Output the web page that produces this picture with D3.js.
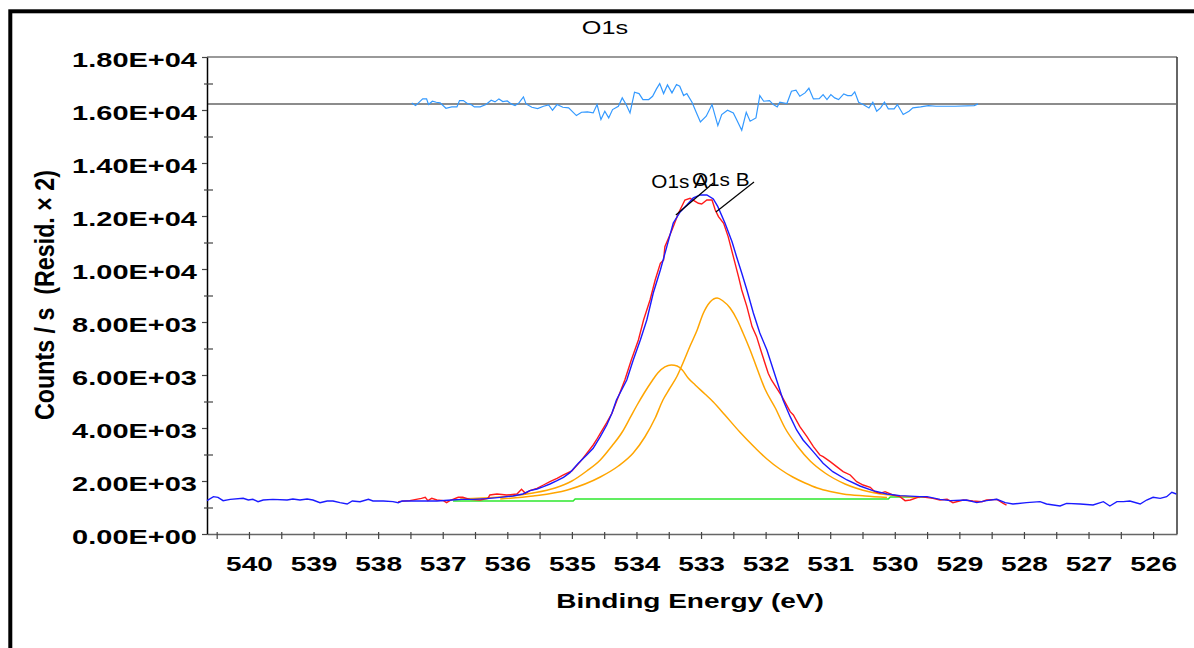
<!DOCTYPE html>
<html>
<head>
<meta charset="utf-8">
<script src="https://cdn.jsdelivr.net/npm/d3@7"></script>
<style>
  body { margin: 0; background: #fff; }
  svg { display: block; }
  text { font-family: "Liberation Sans", Arial, sans-serif; }
</style>
</head>
<body>
<script>
// O1s XPS spectrum: [binding energy (eV), counts/s]

const envelope = [
  [540.65,1258],[540.55,1409],[540.48,1384],[540.40,1258],[540.29,1308],[540.09,1346],[540.01,1283],
  [539.94,1308],[539.86,1220],[539.78,1283],[539.63,1308],[539.41,1283],[539.32,1321],[539.21,1283],
  [539.10,1321],[539.01,1283],[538.90,1183],[538.79,1245],[538.70,1245],[538.59,1183],[538.48,1132],
  [538.40,1245],[538.28,1220],[538.15,1308],[538.08,1245],[537.92,1245],[537.77,1220],[537.69,1183],
  [537.63,1245],[537.51,1245],[537.30,1245],[537.09,1245],[536.86,1283],[536.71,1308],[536.53,1308],
  [536.32,1333],[536.11,1384],[535.91,1434],[535.76,1510],[535.65,1635],[535.54,1698],[535.44,1786],
  [535.34,1887],[535.23,2013],[535.13,2139],[535.03,2315],[534.90,2667],[534.77,2981],[534.67,3233],
  [534.56,3673],[534.46,4114],[534.38,4554],[534.31,5057],[534.15,5812],[534.05,6567],[533.94,7322],
  [533.84,8076],[533.74,9095],[533.63,9963],[533.53,10843],[533.43,11737],[533.32,12163],[533.22,12416],
  [533.12,12681],[533.01,12794],[532.91,12794],[532.81,12643],[532.74,12353],[532.63,11737],[532.52,11031],
  [532.45,10465],[532.37,9850],[532.29,9209],[532.19,8341],[532.09,7586],[531.98,6944],[531.88,6189],
  [531.83,5812],[531.73,5057],[531.62,4428],[531.52,3925],[531.42,3548],[531.26,3100],[531.11,2667],
  [530.96,2352],[530.74,2038],[530.54,1812],[530.34,1635],[530.12,1510],[529.92,1447],[529.61,1409],
  [529.50,1409],[529.30,1308],[529.14,1258],[528.89,1283],[528.73,1183],[528.58,1258],[528.42,1308],
  [528.29,1183],[528.17,1132],[527.96,1183],[527.75,1220],[527.65,1132],[527.44,1057],[527.34,1157],
  [527.13,1132],[526.93,1094],[526.77,1220],[526.67,1057],[526.56,1220],[526.46,1220],[526.36,1245],
  [526.20,1132],[526.10,1283],[526.00,1384],[525.89,1346],[525.79,1409],[525.71,1573],[525.64,1510]
];

const measured = [
  [537.69,1220],[537.51,1258],[537.33,1346],[537.27,1384],[537.23,1258],[537.17,1346],[537.09,1283],
  [536.99,1258],[536.94,1183],[536.89,1258],[536.76,1384],[536.69,1384],[536.58,1308],[536.42,1283],
  [536.30,1346],[536.27,1472],[536.16,1510],[536.01,1472],[535.85,1510],[535.78,1686],[535.72,1535],
  [535.65,1635],[535.54,1724],[535.44,1849],[535.34,1975],[535.23,2101],[535.13,2227],[535.00,2378],
  [534.87,2730],[534.77,3044],[534.67,3359],[534.62,3548],[534.56,3799],[534.46,4202],[534.38,4554],
  [534.33,4868],[534.18,5812],[534.08,6567],[533.97,7322],[533.89,8076],[533.79,8831],[533.71,9586],
  [533.63,10215],[533.58,10340],[533.56,10844],[533.45,11473],[533.35,12102],[533.25,12605],[533.17,12668],
  [533.04,12479],[532.99,12454],[532.91,12605],[532.83,12605],[532.78,12228],[532.73,11976],[532.65,11725],
  [532.58,11221],[532.50,10467],[532.42,9712],[532.37,9209],[532.29,8580],[532.21,7825],[532.14,7447],
  [532.06,6818],[531.96,6064],[531.91,5812],[531.75,5200],[531.62,4617],[531.57,4491],[531.47,4051],
  [531.36,3673],[531.26,3296],[531.16,2981],[531.11,2918],[531.00,2730],[530.90,2541],[530.80,2352],
  [530.69,2227],[530.59,1975],[530.49,1849],[530.38,1761],[530.31,1598],[530.23,1535],[530.15,1598],
  [530.03,1472],[529.92,1409],[529.84,1258],[529.76,1283],[529.61,1409],[529.41,1346],[529.30,1283],
  [529.19,1308],[529.10,1183],[528.94,1283],[528.79,1245],[528.65,1220],[528.58,1283],[528.42,1308],
  [528.32,1157],[528.27,1094]
];

const compA = [
  [536.73,1321],[536.11,1396],[535.60,1547],[535.26,1736],[535.00,2000],[534.77,2378],[534.56,2793],
  [534.38,3321],[534.22,3849],[534.10,4378],[533.99,4868],[533.88,5321],[533.77,5736],[533.67,6076],
  [533.56,6303],[533.46,6378],[533.37,6340],[533.29,6189],[533.20,5887],[533.09,5623],[532.94,5284],
  [532.81,4982],[532.63,4491],[532.40,3849],[532.16,3246],[531.98,2831],[531.78,2453],[531.58,2151],
  [531.39,1925],[531.20,1736],[531.00,1604],[530.80,1510],[530.46,1434],[530.12,1378]
];

const compB = [
  [536.11,1321],[535.60,1434],[535.07,1661],[534.56,2151],[534.28,2566],[534.05,3057],[533.87,3661],
  [533.71,4378],[533.59,5057],[533.48,5510],[533.37,5963],[533.28,6454],[533.17,7095],[533.06,7699],
  [532.97,8303],[532.86,8756],[532.75,8907],[532.66,8793],[532.55,8529],[532.44,8076],[532.35,7586],
  [532.24,6944],[532.13,6227],[532.01,5472],[531.85,4755],[531.70,4000],[531.51,3321],[531.31,2755],
  [531.08,2302],[530.77,1887],[530.38,1585],[529.92,1434],[529.61,1378]
];

const background = [
  [536.84,1245],[534.98,1245],[534.95,1321],[530.10,1321],[530.07,1396],[529.50,1396]
];

// residual, drawn as offset from its zero line
const residZero = 16230;
const residual = [
  [537.48,38],[537.42,-63],[537.31,189],[537.25,189],[537.22,-25],[537.16,101],[537.10,63],[537.04,38],
  [536.95,-164],[536.86,-113],[536.78,-113],[536.74,126],[536.68,126],[536.62,13],[536.56,-25],[536.51,-113],
  [536.42,-113],[536.33,-25],[536.25,138],[536.19,75],[536.13,189],[536.07,88],[536.00,113],[535.94,0],
  [535.88,-63],[535.82,38],[535.75,264],[535.71,0],[535.62,-126],[535.53,-176],[535.44,-88],[535.36,-38],
  [535.30,-239],[535.23,-25],[535.14,-126],[535.05,-151],[534.93,-440],[534.85,-315],[534.76,-302],[534.67,-340],
  [534.61,-25],[534.55,-591],[534.49,-277],[534.43,-528],[534.37,-214],[534.28,-88],[534.22,226],[534.16,-25],
  [534.10,-340],[534.03,440],[533.96,390],[533.90,164],[533.81,164],[533.75,289],[533.69,566],[533.64,767],
  [533.58,390],[533.52,717],[533.45,415],[533.38,730],[533.33,667],[533.27,314],[533.22,390],[533.14,63],
  [533.07,-340],[533.01,-679],[532.92,-465],[532.83,-25],[532.74,-818],[532.68,-402],[532.59,-239],[532.50,-340],
  [532.45,-591],[532.37,-994],[532.30,-315],[532.24,-654],[532.15,-528],[532.09,314],[532.03,101],[531.94,126],
  [531.88,-25],[531.82,-113],[531.78,63],[531.67,13],[531.60,478],[531.53,516],[531.47,289],[531.39,415],
  [531.33,591],[531.26,189],[531.17,201],[531.11,352],[531.05,164],[530.99,352],[530.93,226],[530.87,164],
  [530.79,377],[530.73,314],[530.67,314],[530.62,453],[530.56,63],[530.49,-25],[530.40,-151],[530.34,63],
  [530.28,-277],[530.22,-151],[530.16,63],[530.10,-189],[530.01,-189],[529.96,-25],[529.87,-402],[529.78,-277],
  [529.72,-151],[529.60,-113],[529.48,-63],[529.36,-88],[529.07,-88],[528.77,-63],[528.71,0]
];

const yMajor = d3.range(0, 18001, 2000);
const yMinor = d3.range(1000, 18000, 2000);
const xTicks = d3.range(526, 541, 0.5);

// peak labels: text anchor point and leader line ends
const peakLabels = [
  { name: "O1s A", tx: 533.77, ty: 13058, from: [533.39, 12039], to: [532.81, 13247] },
  { name: "O1s B", tx: 533.14, ty: 13134, from: [532.77, 12152], to: [532.18, 13284] }
];

const w = 1194;
const h = 648;
const stretchK = 1.4;   // the picture's lettering is wide

const svg = d3.select("body")
  .append("svg")
  .attr("width", w)
  .attr("height", h);

// page frame (runs off the right and bottom)
svg.append("rect")
  .attr("x", 10.3).attr("y", 11.3)
  .attr("width", 1300).attr("height", 800)
  .attr("fill", "none").attr("stroke", "#000").attr("stroke-width", 4);

const x = d3.scaleLinear().domain([540.65, 525.63]).range([207, 1177]);
const y = d3.scaleLinear().domain([0, 18000]).range([534, 57]);

function stretch(sel, k) {
  sel.each(function () {
    const len = this.getComputedTextLength();
    d3.select(this).attr("textLength", len * k).attr("lengthAdjust", "spacingAndGlyphs");
  });
}

function fmtE(d) {
  const [m, e] = d.toExponential(2).split("e");
  const n = +e;
  return m + "E" + (n < 0 ? "-" : "+") + String(Math.abs(n)).padStart(2, "0");
}

// plot frame top / right
svg.append("line")
  .attr("x1", x.range()[0]).attr("x2", x.range()[1])
  .attr("y1", y(18000)).attr("y2", y(18000))
  .attr("stroke", "#777").attr("stroke-width", 1.5);
svg.append("line")
  .attr("x1", x.range()[1]).attr("x2", x.range()[1])
  .attr("y1", y(18000)).attr("y2", y(0))
  .attr("stroke", "#333").attr("stroke-width", 1.5);

// residual zero line
svg.append("line")
  .attr("x1", x.range()[0]).attr("x2", x.range()[1])
  .attr("y1", y(residZero)).attr("y2", y(residZero))
  .attr("stroke", "#666").attr("stroke-width", 1.5);

// x axis
const xAxis = svg.append("g")
  .attr("transform", `translate(0,${y(0)})`)
  .call(d3.axisBottom(x)
    .tickValues(xTicks)
    .tickSize(5)
    .tickSizeOuter(0)
    .tickFormat(d => Number.isInteger(d) ? d : ""));
xAxis.select(".domain").attr("stroke", "#666").attr("stroke-width", 1.5);
xAxis.selectAll(".tick line").attr("y1", -2).attr("stroke", "#444").attr("stroke-width", 1.2);
xAxis.selectAll(".tick text")
  .attr("y", 37).attr("dy", null)
  .attr("font-size", "20px").attr("font-weight", "bold")
  .attr("font-family", "Liberation Sans, Arial, sans-serif")
  .attr("fill", "#000")
  .call(stretch, stretchK);

// y axis
const yAxis = svg.append("g")
  .attr("transform", `translate(${x.range()[0]},0)`)
  .call(d3.axisLeft(y)
    .tickValues(yMajor)
    .tickSize(5)
    .tickSizeOuter(0)
    .tickFormat(fmtE));
yAxis.select(".domain").attr("stroke", "#000").attr("stroke-width", 1.5);
yAxis.selectAll(".tick line").attr("stroke", "#444").attr("stroke-width", 1.2);
yAxis.selectAll(".tick text")
  .attr("x", -10).attr("dy", 9)
  .attr("font-size", "21px").attr("font-weight", "bold")
  .attr("font-family", "Liberation Sans, Arial, sans-serif")
  .attr("fill", "#000")
  .call(stretch, 1.38);

svg.append("g")
  .attr("transform", `translate(${x.range()[0]},0)`)
  .call(d3.axisLeft(y).tickValues(yMinor).tickSize(3).tickFormat(""))
  .call(g => g.select(".domain").remove())
  .call(g => g.selectAll("line").attr("x2", 6).attr("x1", -3).attr("stroke", "#444").attr("stroke-width", 1.2));

// axis titles
svg.append("text")
  .attr("x", 690).attr("y", 608)
  .attr("text-anchor", "middle")
  .attr("font-size", "20px").attr("font-weight", "bold")
  .text("Binding Energy (eV)")
  .call(stretch, stretchK);

svg.append("text")
  .attr("transform", "translate(54,295) scale(1.38,1) rotate(-90)")
  .attr("text-anchor", "middle")
  .attr("font-size", "20px").attr("font-weight", "bold")
  .style("white-space", "pre")
  .attr("textLength", 250).attr("lengthAdjust", "spacingAndGlyphs")
  .text("Counts / s  (Resid. \u00d7 2)");

svg.append("text")
  .attr("x", 605).attr("y", 34)
  .attr("text-anchor", "middle")
  .attr("font-size", "18px")
  .text("O1s")
  .call(stretch, stretchK);

// curves
const line = d3.line().x(d => x(d[0])).y(d => y(d[1]));
const smooth = d3.line().x(d => x(d[0])).y(d => y(d[1])).curve(d3.curveMonotoneX);
const plot = svg.append("g");

plot.append("path").datum(background)
  .attr("d", line).attr("fill", "none")
  .attr("stroke", "#2ee82e").attr("stroke-width", 1.5);

[compA, compB].forEach(c => {
  plot.append("path").datum(c)
    .attr("d", smooth).attr("fill", "none")
    .attr("stroke", "#ffa500").attr("stroke-width", 1.5);
});

plot.append("path").datum(measured)
  .attr("d", line).attr("fill", "none")
  .attr("stroke", "#ff1a1a").attr("stroke-width", 1.4);

plot.append("path").datum(envelope)
  .attr("d", line).attr("fill", "none")
  .attr("stroke", "#1a1aff").attr("stroke-width", 1.4);

plot.append("path").datum(residual)
  .attr("d", d3.line().x(d => x(d[0])).y(d => y(residZero + d[1])))
  .attr("fill", "none")
  .attr("stroke", "#3399ff").attr("stroke-width", 1.2);

// peak labels
peakLabels.forEach(p => {
  svg.append("line")
    .attr("x1", x(p.from[0])).attr("y1", y(p.from[1]))
    .attr("x2", x(p.to[0])).attr("y2", y(p.to[1]))
    .attr("stroke", "#000").attr("stroke-width", 1.2);
  svg.append("text")
    .attr("x", x(p.tx)).attr("y", y(p.ty))
    .attr("font-size", "18px")
    .text(p.name)
    .call(stretch, 1.15);
});
</script>
</body>
</html>
